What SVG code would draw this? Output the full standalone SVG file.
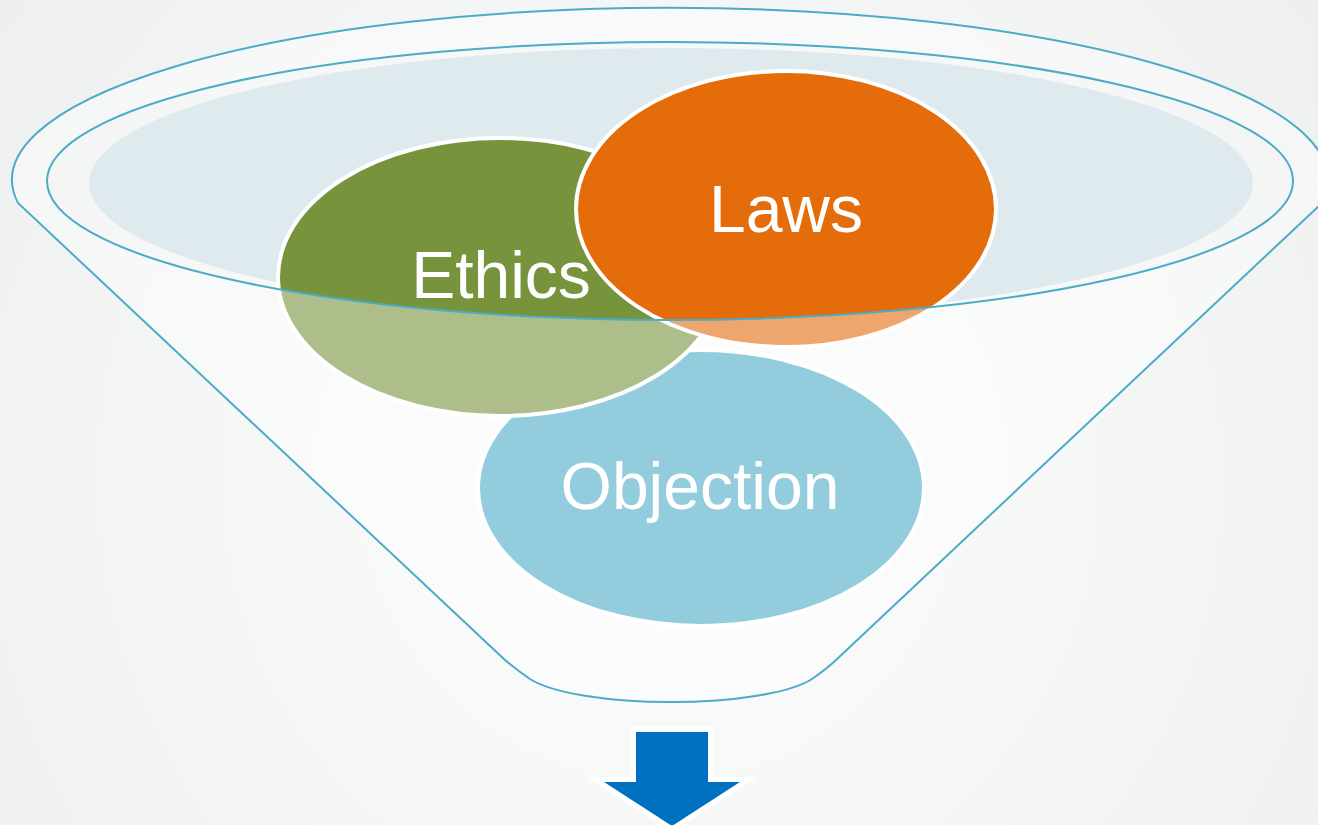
<svg xmlns="http://www.w3.org/2000/svg" width="1318" height="825" viewBox="0 0 1318 825">
<defs>
<radialGradient id="bg" cx="660" cy="480" r="900" gradientUnits="userSpaceOnUse">
<stop offset="0" stop-color="#FDFDFD"/>
<stop offset="0.55" stop-color="#F4F5F5"/>
<stop offset="1" stop-color="#ECEEEE"/>
</radialGradient>
<style>
.node ellipse{stroke:#FFFFFF;stroke-width:4}
.lbl{font-family:"Liberation Sans",Arial,sans-serif;font-size:66px;fill:#FFFFFF;text-anchor:middle}
.rim{fill:none;stroke:#4BACC6;stroke-width:2}
</style>
</defs>
<rect x="0" y="0" width="1318" height="825" fill="url(#bg)"/>
<g id="funnel-back">
<ellipse cx="670" cy="181" rx="623" ry="139" fill="#FFFFFF" fill-opacity="0.25"/>
<ellipse cx="671" cy="183" rx="582" ry="135" fill="#DFEAEF"/>
</g>
<g id="objection" class="node">
<ellipse cx="701" cy="488" rx="223" ry="138" fill="#4BACC6"/>
<text class="lbl" x="700" y="509">Objection</text>
</g>
<g id="ethics" class="node">
<ellipse cx="500" cy="277" rx="222" ry="139" fill="#77933C"/>
<text class="lbl" x="501" y="298">Ethics</text>
</g>
<g id="laws" class="node">
<ellipse cx="786" cy="209" rx="210" ry="138" fill="#E46C0A"/>
<text class="lbl" x="786" y="232">Laws</text>
</g>
<g id="funnel-front">
<path fill="#FFFFFF" fill-opacity="0.4" fill-rule="evenodd" d="M18,203 A658,172 0 1 1 1322,203 L836,660 Q826,669.3 812,679 A150,35 0 0 1 530,679 Q516,669.3 505,660 Z M47,181 A623,139 0 1 0 1293,181 A623,139 0 1 0 47,181 Z"/>
<path class="rim" d="M18,203 A658,172 0 1 1 1322,203 L836,660 Q826,669.3 812,679 A150,35 0 0 1 530,679 Q516,669.3 505,660 Z"/>
<ellipse class="rim" cx="670" cy="181" rx="623" ry="139"/>
</g>
<g id="connectors">
<polygon points="636,732 708,732 708,782 740,782 672,826 604,782 636,782" fill="#0070C0" stroke="#FFFFFF" stroke-width="10" stroke-linejoin="miter" paint-order="stroke fill"/>
</g>
</svg>
